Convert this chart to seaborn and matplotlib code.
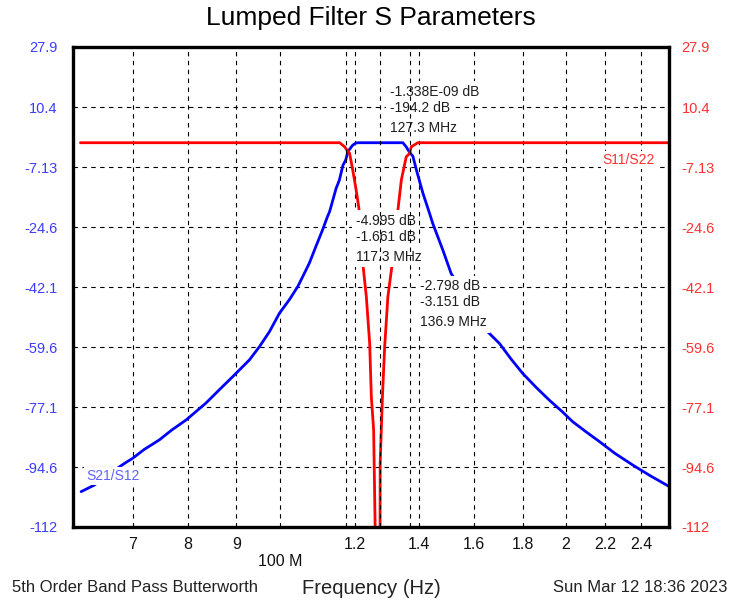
import matplotlib
matplotlib.use("Agg")
import matplotlib.pyplot as plt
import seaborn as sns
import pandas as pd
from matplotlib.ticker import NullLocator

# ---------------- data ----------------
s21_freq_mhz = [61.8, 63.8, 66.0, 68.7, 70.0, 72.0, 74.7, 77.0, 79.7, 83.6, 86.3, 89.2, 92.9,
                95.2, 97.5, 99.9, 102.3, 104.4, 106.1, 107.4, 109.1, 110.9, 112.2, 112.8,
                114.6, 115.5, 116.5, 117.3, 117.9, 119.3, 120.3, 121.2, 124.0,
                127.3, 131.0, 134.7, 135.8, 136.9, 138.0, 139.2, 141.4, 143.7, 144.8, 148.4,
                151.4, 165.4, 170.2, 175.0, 180.0, 186.0, 192.0, 198.0, 203.2, 210.0, 216.8,
                225.0, 234.9, 245.0, 256.7]
s21_db = [-101.7, -99.8, -96.7, -93.4, -92.0, -89.4, -86.6, -83.7, -80.8, -75.9, -72.1, -68.2,
          -63.3, -59.4, -55.1, -49.7, -45.8, -42.0, -38.1, -35.1, -30.3, -25.4, -21.6, -20.1,
          -13.3, -10.9, -6.6, -5.0, -2.6, -0.7, -0.05, 0.0, 0.0,
          0.0, 0.0, 0.0, -1.2, -2.8, -3.9, -7.95, -14.7, -20.6, -23.5, -31.3,
          -38.1, -55.1, -58.5, -63.0, -67.2, -71.3, -75.0, -78.3, -81.3, -84.3, -87.1,
          -90.5, -93.9, -97.0, -100.2]

s11_freq_mhz = [61.7, 90.0, 115.6, 117.0, 117.3, 118.4, 119.3, 120.3, 121.1, 122.3, 123.3,
                124.3, 124.8, 125.5, 127.3, 127.5, 128.2, 128.9, 129.9, 131.3, 133.1, 134.2,
                135.8, 136.9, 137.5, 139.7, 180.0, 256.7]
s11_db = [0.0, 0.0, 0.0, -1.2, -1.66, -3.1, -7.95, -13.8, -19.1, -35.6, -44.9,
          -58.5, -74.0, -83.7, -194.2, -93.4, -74.0, -59.4, -44.9, -35.1, -19.6, -10.9,
          -4.1, -3.15, -1.16, 0.0, 0.0, 0.0]

y_ticks = [27.9, 10.4, -7.13, -24.6, -42.1, -59.6, -77.1, -94.6, -112]
y_tick_labels = ["27.9", "10.4", "-7.13", "-24.6", "-42.1", "-59.6", "-77.1", "-94.6", "-112"]
x_grid_mhz = [70, 80, 90, 100, 120, 140, 160, 180, 200, 220, 240]
x_tick_labels = ["7", "8", "9", "\n100 M", "1.2", "1.4", "1.6", "1.8", "2", "2.2", "2.4"]

marker_freq_mhz = [127.3, 117.3, 136.9]
marker_s21_text = ["-1.338E-09 dB", "-4.995 dB", "-2.798 dB"]
marker_s11_text = ["-194.2 dB", "-1.661 dB", "-3.151 dB"]
marker_freq_text = ["127.3 MHz", "117.3 MHz", "136.9 MHz"]
# layout: vertical anchor (dB) of each marker read-out block
marker_label_y_db = [14.9, -22.7, -41.8]

# ---------------- style ----------------
sns.set_theme(style="white")
plt.rcParams["font.family"] = ["Liberation Sans", "DejaVu Sans"]

fig = plt.figure(figsize=(7.3, 6.01), dpi=100)
ax = fig.add_axes([73 / 730, 1 - 527 / 601, 596 / 730, 480 / 601])
ax.set_xscale("log")

df21 = pd.DataFrame({"freq": s21_freq_mhz, "db": s21_db})
df11 = pd.DataFrame({"freq": s11_freq_mhz, "db": s11_db})
sns.lineplot(data=df21, x="freq", y="db", ax=ax, color="#0000ff", linewidth=2.0,
             estimator=None, sort=False, zorder=2)
sns.lineplot(data=df11, x="freq", y="db", ax=ax, color="#ff0000", linewidth=2.0,
             estimator=None, sort=False, zorder=2)

ax.set_xlim(60.6, 256.6)
ax.set_ylim(-112, 27.9)
ax.set_xlabel("")
ax.set_ylabel("")

ax.set_xticks(x_grid_mhz)
ax.set_xticklabels(x_tick_labels, fontsize=11.5, color="#111111")
ax.xaxis.set_minor_locator(NullLocator())
ax.set_yticks(y_ticks)
ax.set_yticklabels(y_tick_labels, fontsize=10.5, color="#3c3cff")
ax.tick_params(axis="x", length=0, pad=7)
ax.tick_params(axis="y", length=0, pad=11)

dash = (0, (4, 4))
ax.grid(True, which="major", color="black", linestyle=dash, linewidth=0.8)
ax.set_axisbelow(True)
for f in marker_freq_mhz:
    ax.axvline(f, color="black", linestyle=dash, linewidth=0.8, zorder=4)

for s in ax.spines.values():
    s.set_linewidth(2.4)
    s.set_color("black")
    s.set_zorder(5)

ax2 = ax.twinx()
ax2.set_ylim(ax.get_ylim())
ax2.set_yticks(y_ticks)
ax2.set_yticklabels(y_tick_labels, fontsize=10.5, color="#ff3030")
ax2.tick_params(axis="y", length=0, pad=9)
ax2.grid(False)
for s in ax2.spines.values():
    s.set_visible(False)

# marker read-outs
box = dict(boxstyle="square,pad=0.25", facecolor="white", edgecolor="none")
for f, t21, t11, tf, ydb in zip(marker_freq_mhz, marker_s21_text, marker_s11_text,
                                marker_freq_text, marker_label_y_db):
    for txt, dy in zip([t21, t11, tf], [0, -16, -36]):
        ax.annotate(txt, xy=(f, ydb), xytext=(10, dy), textcoords="offset pixels",
                    ha="left", va="center", fontsize=10, color="#1e1e1e",
                    bbox=box, zorder=3)

ax.text((86 - 73) / 596, (527 - 476) / 480, "S21/S12", transform=ax.transAxes,
        ha="left", va="center", fontsize=10, color="#6060ff",
        bbox=dict(boxstyle="square,pad=0.12", facecolor="white", edgecolor="none"), zorder=3)
ax.text((655 - 73) / 596, (527 - 160) / 480, "S11/S22", transform=ax.transAxes,
        ha="right", va="center", fontsize=10, color="#ff3030",
        bbox=dict(boxstyle="square,pad=0.15", facecolor="white", edgecolor="none"), zorder=3)

fig.text(371 / 730, 1 - 18 / 601, "Lumped Filter S Parameters", ha="center", va="center",
         fontsize=19, color="black")
fig.text(371 / 730, 1 - 588 / 601, "Frequency (Hz)", ha="center", va="center",
         fontsize=14.5, color="#222222")
fig.text(12 / 730, 1 - 588 / 601, "5th Order Band Pass Butterworth", ha="left", va="center",
         fontsize=12, color="#222222")
fig.text(727 / 730, 1 - 588 / 601, "Sun Mar 12 18:36 2023", ha="right", va="center",
         fontsize=12, color="#222222")

fig.savefig("out.png", dpi=100, facecolor="white")
